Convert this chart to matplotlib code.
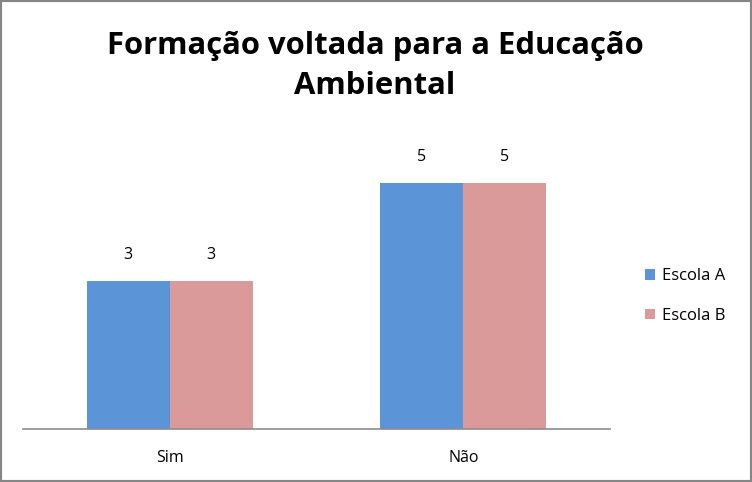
import numpy as np
import matplotlib.pyplot as plt
from matplotlib.patches import Rectangle

# data
categories = ['Sim', 'Não']
series_names = ['Escola A', 'Escola B']
escola_a = [3, 5]
escola_b = [3, 5]
colors = ['#5B94D7', '#DA9A99']

plt.rcParams['font.family'] = ['Open Sans', 'DejaVu Sans']

fig = plt.figure(figsize=(7.52, 4.82), dpi=100)
W, H = 752, 482
ax = fig.add_axes([23 / W, 53 / H, 587 / W, 295.2 / H])

x = np.arange(len(categories))
bw = 0.283
bars_a = ax.bar(x - bw / 2, escola_a, bw, color=colors[0], label=series_names[0])
bars_b = ax.bar(x + bw / 2, escola_b, bw, color=colors[1], label=series_names[1])

for bars in (bars_a, bars_b):
    for b in bars:
        ax.annotate(str(int(b.get_height())), (b.get_x() + b.get_width() / 2, b.get_height()),
                    xytext=(0, 18), textcoords='offset pixels', ha='center', va='bottom',
                    fontsize=11.5, color='#000000')

ax.set_xlim(-0.5, 1.5)
ax.set_ylim(0, 6)
ax.set_xticks(x)
ax.set_xticklabels(categories, fontsize=11.5)
ax.tick_params(axis='x', length=0, pad=15)
ax.set_yticks([])
for s in ['top', 'right', 'left']:
    ax.spines[s].set_visible(False)
ax.spines['bottom'].set_color('#8C8C8C')
ax.spines['bottom'].set_linewidth(1.2)

fig.text(375 / W, 1 - 66 / H, 'Formação voltada para a Educação\nAmbiental', ha='center', va='center',
         fontsize=22.3, fontweight='bold', linespacing=1.45)

leg = fig.legend(handles=[bars_a, bars_b], labels=series_names, loc='center left',
                 bbox_to_anchor=(630 / W, 1 - 296 / H), frameon=False, fontsize=12,
                 handlelength=0.6, handleheight=0.6, handletextpad=0.4, labelspacing=1.4)

# outer border
fig.patches.append(Rectangle((0, 0), 1, 1, transform=fig.transFigure, fill=False,
                             edgecolor='#868686', linewidth=3))

fig.savefig('out.png', dpi=100)
